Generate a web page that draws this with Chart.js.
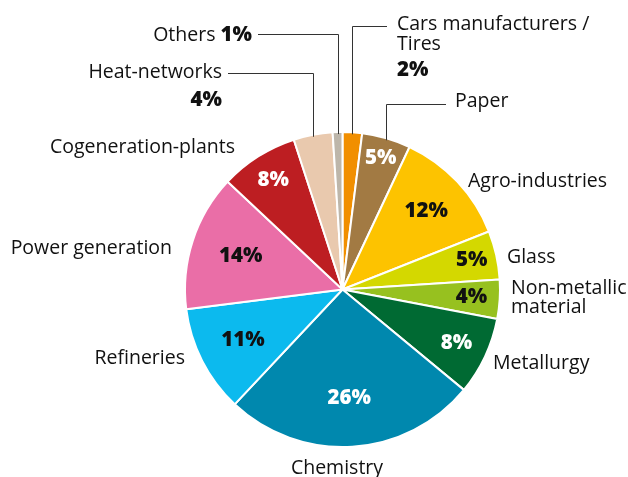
<!DOCTYPE html>
<html>
<head>
<meta charset="utf-8">
<script src="https://cdn.jsdelivr.net/npm/chart.js@4"></script>
<style>
  html, body { margin: 0; padding: 0; background: #fff; }
  #wrap { width: 628px; height: 477px; position: relative; }
</style>
</head>
<body>
<div id="wrap"><canvas id="pie"></canvas></div>
<script>
"use strict";

const sectors = [
  "Cars manufacturers / Tires", "Paper", "Agro-industries", "Glass",
  "Non-metallic material", "Metallurgy", "Chemistry", "Refineries",
  "Power generation", "Cogeneration-plants", "Heat-networks", "Others"
];
const shares = [2, 5, 12, 5, 4, 8, 26, 11, 14, 8, 4, 1];
const colours = [
  "#f18f00", "#a27a43", "#fdc300", "#d4d800", "#97c11f", "#006a33",
  "#0088ae", "#0cbaee", "#ea6ea7", "#bd1e22", "#e9c9ae", "#bdb6aa"
];

// where the % sits inside each slice (fraction of radius), null = outside
const insideAt = [null, 0.87, 0.73, 0.84, 0.82, 0.8, 0.69, 0.71, 0.68, 0.82, null, null];
const insideColour = ["#000", "#fff", "#111", "#111", "#111", "#fff", "#fff", "#111", "#111", "#fff", "#000", "#000"];

const nameFont = "19.5px 'Open Sans', sans-serif";
const pctFont = "800 20.5px 'Open Sans', sans-serif";

// outer captions: [text, bold, y, with % after]
const captions = [
  { i: 0, x: 397, align: "left", lines: [["Cars manufacturers /", false, 24], ["Tires", false, 44], ["%", true, 70]],
    leader: { y: 26, x: 387 } },
  { i: 1, x: 455, align: "left", lines: [["Paper", false, 101]], leader: { y: 104, x: 446 } },
  { i: 2, x: 468, align: "left", lines: [["Agro-industries", false, 181]] },
  { i: 3, x: 507, align: "left", lines: [["Glass", false, 257]] },
  { i: 4, x: 511, align: "left", lines: [["Non-metallic", false, 288], ["material", false, 307]] },
  { i: 5, x: 493, align: "left", lines: [["Metallurgy", false, 363]] },
  { i: 6, x: 337, align: "center", lines: [["Chemistry", false, 468]] },
  { i: 7, x: 185, align: "right", lines: [["Refineries", false, 358]] },
  { i: 8, x: 172, align: "right", lines: [["Power generation", false, 248]] },
  { i: 9, x: 235, align: "right", lines: [["Cogeneration-plants", false, 147]] },
  { i: 10, x: 222, align: "right", lines: [["Heat-networks", false, 72], ["%", true, 100]],
    leader: { y: 73, x: 228 } },
  { i: 11, x: 252, align: "right", lines: [["Others", false, 35, true]], leader: { y: 34, x: 258 } }
];

const labelPlugin = {
  id: "pieLabels",
  afterDatasetsDraw(chart) {
    const ctx = chart.ctx;
    const arcs = chart.getDatasetMeta(0).data;
    ctx.save();
    ctx.textBaseline = "middle";

    // percentages inside slices
    arcs.forEach((arc, i) => {
      if (insideAt[i] === null) return;
      const { x, y, startAngle, endAngle, outerRadius } = arc.getProps(
        ["x", "y", "startAngle", "endAngle", "outerRadius"], true);
      const mid = (startAngle + endAngle) / 2;
      const r = outerRadius * insideAt[i];
      ctx.font = pctFont;
      ctx.fillStyle = insideColour[i];
      ctx.textAlign = "center";
      ctx.fillText(shares[i] + "%", x + r * Math.cos(mid), y + r * Math.sin(mid));
    });

    // leader lines
    ctx.strokeStyle = "#333";
    ctx.lineWidth = 1;
    captions.forEach(c => {
      if (!c.leader) return;
      const { x, y, startAngle, endAngle, outerRadius } = arcs[c.i].getProps(
        ["x", "y", "startAngle", "endAngle", "outerRadius"], true);
      const mid = (startAngle + endAngle) / 2;
      const px = Math.round(x + outerRadius * Math.cos(mid)) + 0.5;
      const py = y + outerRadius * Math.sin(mid) + 2;
      ctx.beginPath();
      ctx.moveTo(c.leader.x, c.leader.y + 0.5);
      ctx.lineTo(px, c.leader.y + 0.5);
      ctx.lineTo(px, py);
      ctx.stroke();
    });

    // outer captions
    ctx.fillStyle = "#111";
    captions.forEach(c => {
      c.lines.forEach(([text, bold, ly, withPct]) => {
        const t = bold ? shares[c.i] + text : text;
        ctx.font = bold ? pctFont : nameFont;
        if (withPct) {
          ctx.font = pctFont;
          const pct = shares[c.i] + "%";
          const pw = ctx.measureText(pct).width;
          ctx.textAlign = "right";
          ctx.fillText(pct, c.x, ly);
          ctx.font = nameFont;
          ctx.fillText(t + " ", c.x - pw, ly);
          return;
        }
        ctx.textAlign = c.align;
        ctx.fillText(t, c.x, ly);
      });
    });
    ctx.restore();
  }
};

new Chart(document.getElementById("pie").getContext("2d"), {
  type: "pie",
  data: {
    labels: sectors,
    datasets: [{
      data: shares,
      backgroundColor: colours,
      borderColor: "#fff",
      borderWidth: 2
    }]
  },
  options: {
    responsive: true,
    maintainAspectRatio: false,
    animation: false,
    layout: { padding: { left: 184, right: 127, top: 131, bottom: 29 } },
    plugins: { legend: { display: false }, tooltip: { enabled: false } }
  },
  plugins: [labelPlugin]
});
</script>
</body>
</html>
